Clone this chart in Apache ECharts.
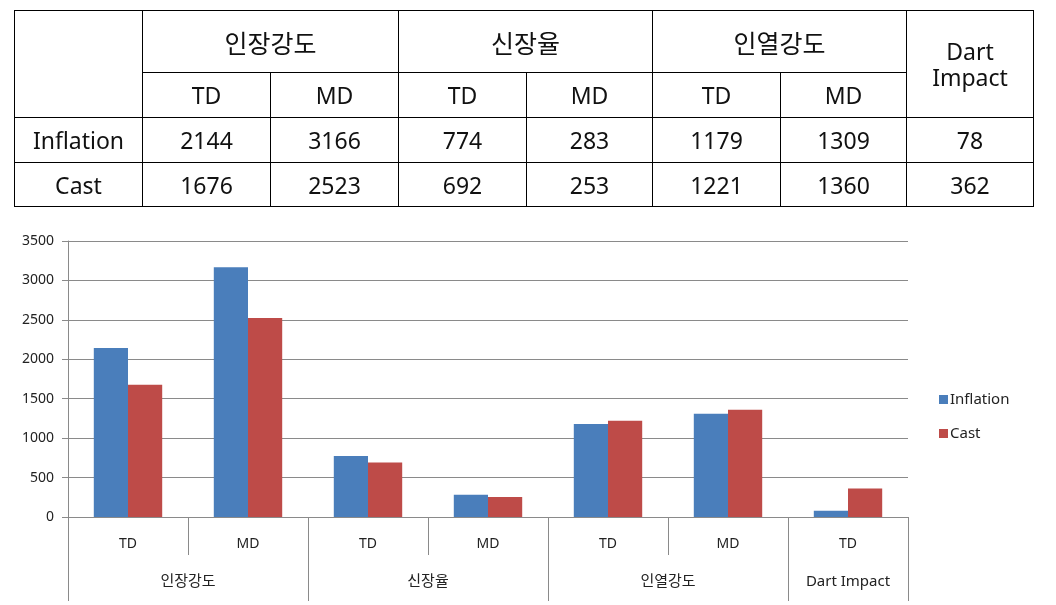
<!DOCTYPE html>
<html>
<head>
<meta charset="utf-8">
<script src="https://cdn.jsdelivr.net/npm/echarts@6/dist/echarts.min.js"></script>
<style>
  html, body { margin: 0; padding: 0; background: #fff; }
  #chart { position: absolute; left: 0; top: 0; width: 1056px; height: 605px; }
  #tbl { position: absolute; left: 14px; top: 10px; border-collapse: collapse; table-layout: fixed;
         font-family: "Noto Sans", "Noto Sans CJK KR", sans-serif; font-size: 23px; color: #111; }
  #tbl td { border: 1px solid #000; text-align: center; vertical-align: middle; padding: 0; }
  #tbl td.ko { font-size: 25px; }
</style>
</head>
<body>
<div id="chart"></div>
<table id="tbl"></table>
<script>
const groups = ['인장강도', '신장율', '인열강도', 'Dart Impact'];
const groupSizes = [2, 2, 2, 1];
const categories = ['TD', 'MD', 'TD', 'MD', 'TD', 'MD', 'TD'];
const seriesNames = ['Inflation', 'Cast'];
const inflation = [2144, 3166, 774, 283, 1179, 1309, 78];
const cast = [1676, 2523, 692, 253, 1221, 1360, 362];
const yTicks = [0, 500, 1000, 1500, 2000, 2500, 3000, 3500];

// ---- table ----
(function buildTable() {
  const t = document.getElementById('tbl');
  const colW = [128, 128, 128, 128, 126, 128, 126, 127];
  let cg = '<colgroup>' + colW.map(w => '<col style="width:' + w + 'px">').join('') + '</colgroup>';
  let h1 = '<tr style="height:62px"><td rowspan="2"></td>';
  groups.forEach((g, i) => {
    if (groupSizes[i] > 1) h1 += '<td class="ko" colspan="' + groupSizes[i] + '">' + g + '</td>';
    else h1 += '<td rowspan="2" style="line-height:26px">' + g.replace(' ', '<br>') + '</td>';
  });
  h1 += '</tr>';
  let h2 = '<tr style="height:45px">';
  let idx = 0;
  groups.forEach((g, i) => {
    for (let k = 0; k < groupSizes[i]; k++) {
      if (groupSizes[i] > 1) h2 += '<td>' + categories[idx] + '</td>';
      idx++;
    }
  });
  h2 += '</tr>';
  const rows = [inflation, cast].map((arr, r) =>
    '<tr style="height:' + (r === 0 ? 45 : 44) + 'px"><td>' + seriesNames[r] + '</td>' +
    arr.map(v => '<td>' + v + '</td>').join('') + '</tr>').join('');
  t.innerHTML = cg + h1 + h2 + rows;
})();

// ---- chart ----
const groupBounds = [0];
groupSizes.forEach(s => groupBounds.push(groupBounds[groupBounds.length - 1] + s));
const groupCenters = groupSizes.map((s, i) => groupBounds[i] + s / 2);

const font = '"Noto Sans", "Noto Sans CJK KR", sans-serif';
const chart = echarts.init(document.getElementById('chart'), null, { renderer: 'canvas' });
chart.setOption({
  animation: false,
  backgroundColor: '#fff',
  color: ['#4a7ebb', '#be4b48'],
  grid: { left: 68, right: 148, top: 241, bottom: 88, containLabel: false },
  legend: {
    orient: 'vertical', left: 934, top: 387, itemWidth: 9, itemHeight: 9, itemGap: 19,
    icon: 'rect', data: seriesNames,
    textStyle: { fontSize: 15, color: '#222', fontFamily: font, padding: [0, 0, 0, -3] }
  },
  xAxis: [
    {
      type: 'category', data: categories, position: 'bottom',
      axisLine: { lineStyle: { color: '#8a8a8a', width: 1 } },
      axisTick: { show: true, length: 38, lineStyle: { color: '#8a8a8a' } },
      axisLabel: { margin: 20, fontSize: 14, color: '#222', fontFamily: font, interval: 0 },
      splitLine: { show: false }
    },
    {
      type: 'value', min: 0, max: groupBounds[groupBounds.length - 1], position: 'bottom',
      axisLine: { show: false },
      splitLine: { show: false },
      axisTick: { show: true, length: 84, customValues: groupBounds, lineStyle: { color: '#8a8a8a' } },
      axisLabel: {
        customValues: groupCenters, margin: 57, fontSize: 15, color: '#222', fontFamily: font,
        formatter: function (v) {
          const i = groupCenters.indexOf(v);
          return i >= 0 ? groups[i] : '';
        }
      }
    }
  ],
  yAxis: {
    type: 'value', min: 0, max: 3500, interval: 500,
    axisLine: { show: true, lineStyle: { color: '#8a8a8a' } },
    axisTick: { show: true, length: 6, lineStyle: { color: '#8a8a8a' } },
    axisLabel: { fontSize: 14, color: '#222', margin: 14, fontFamily: font,
      formatter: v => (yTicks.indexOf(v) >= 0 ? String(v) : '') },
    splitLine: { show: true, lineStyle: { color: '#8a8a8a', width: 1 } }
  },
  series: [
    { name: seriesNames[0], type: 'bar', xAxisIndex: 0, data: inflation, barGap: '0%', barCategoryGap: '43%' },
    { name: seriesNames[1], type: 'bar', xAxisIndex: 0, data: cast, barGap: '0%', barCategoryGap: '43%' }
  ]
});
</script>
</body>
</html>
